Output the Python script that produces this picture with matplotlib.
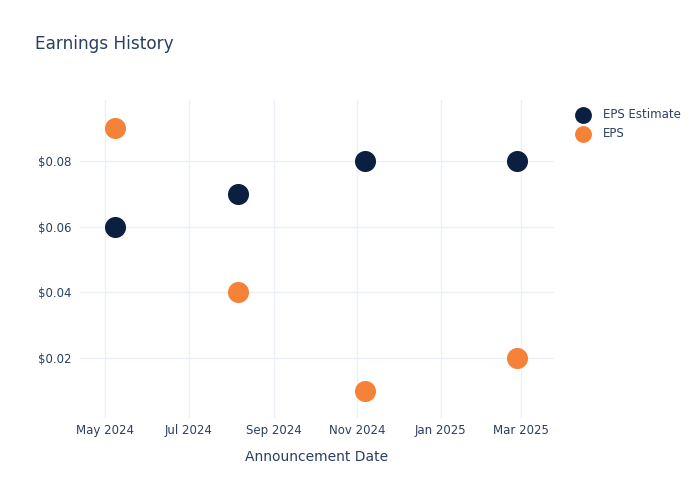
import matplotlib
matplotlib.use('Agg')
import matplotlib.pyplot as plt
import matplotlib.dates as mdates
from matplotlib.ticker import FuncFormatter
from datetime import datetime

dates = ['2024-05-08', '2024-08-06', '2024-11-07', '2025-02-26']
eps_estimate = [0.06, 0.07, 0.08, 0.08]
eps_actual = [0.09, 0.04, 0.01, 0.02]
tick_dates = ['2024-05-01', '2024-07-01', '2024-09-01', '2024-11-01', '2025-01-01', '2025-03-01']
tick_labels = ['May 2024', 'Jul 2024', 'Sep 2024', 'Nov 2024', 'Jan 2025', 'Mar 2025']
y_ticks = [0.02, 0.04, 0.06, 0.08]

navy = '#0b1f40'
orange = '#f58238'
txt = '#2a3f5f'
grid = '#ebf0f8'

x = [datetime.strptime(d, '%Y-%m-%d') for d in dates]
xt = [datetime.strptime(d, '%Y-%m-%d') for d in tick_dates]

plt.rcParams['font.family'] = 'DejaVu Sans'
fig = plt.figure(figsize=(7, 5), dpi=100)
ax = fig.add_axes([80/700, 82/500, 473.7/700, 318/500])

ax.scatter(x, eps_estimate, s=230, color=navy, label='EPS Estimate', zorder=3, linewidths=0)
ax.scatter(x, eps_actual, s=230, color=orange, label='EPS', zorder=3, linewidths=0)

ax.set_xlim(datetime(2024, 4, 12, 12), datetime(2025, 3, 24, 16))
ax.set_ylim(0.00172, 0.0986)
ax.set_xticks(xt)
ax.set_xticklabels(tick_labels)
ax.set_yticks(y_ticks)
ax.yaxis.set_major_formatter(FuncFormatter(lambda v, p: f'${v:.2f}'))

ax.grid(True, color=grid, linewidth=1)
ax.set_axisbelow(True)
for s in ax.spines.values():
    s.set_visible(False)
ax.tick_params(length=0, labelsize=8.5, colors=txt)
ax.tick_params(axis='x', pad=4)
ax.tick_params(axis='y', pad=6)
ax.set_xlabel('Announcement Date', fontsize=10, color=txt, labelpad=9.5)

fig.text(35/700, 1 - 44/500, 'Earnings History', fontsize=12.2, color=txt, va='center', ha='left')

leg = fig.legend(loc='upper left', bbox_to_anchor=(571/700, 1 - 108/500), frameon=False,
                 fontsize=8.5, labelcolor=txt, handletextpad=0.7, labelspacing=0.55,
                 borderaxespad=0, borderpad=0, markerscale=0.8)

fig.savefig('out.png', dpi=100)
